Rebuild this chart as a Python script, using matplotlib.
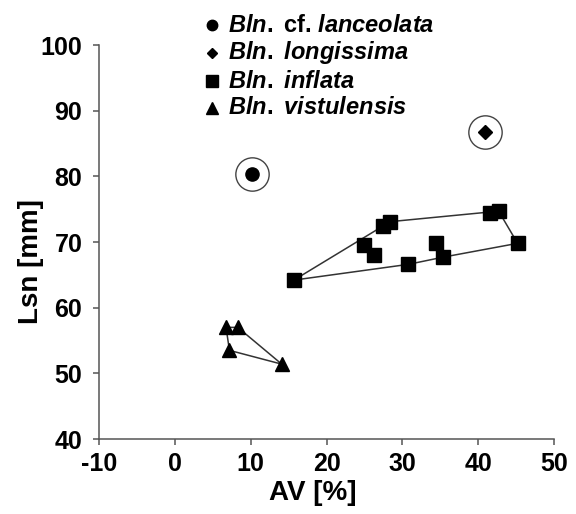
import matplotlib
matplotlib.use("Agg")
import matplotlib.pyplot as plt

# ---- data ----
lanceolata_x = [10.2]
lanceolata_y = [80.4]
longissima_x = [40.9]
longissima_y = [86.8]
inflata_x = [15.7, 24.9, 26.3, 27.5, 28.4, 30.8, 34.5, 35.4, 41.5, 42.7, 45.2]
inflata_y = [64.2, 69.5, 68.0, 72.4, 73.1, 66.6, 69.8, 67.7, 74.4, 74.7, 69.8]
inflata_hull = [0, 4, 9, 10, 7, 5, 0]
vistulensis_x = [6.75, 8.3, 7.2, 14.1]
vistulensis_y = [57.0, 57.0, 53.5, 51.4]
vistulensis_hull = [0, 1, 3, 2, 0]
x_ticks = [-10, 0, 10, 20, 30, 40, 50]
y_ticks = [40, 50, 60, 70, 80, 90, 100]
legend_labels = [r"$\mathit{Bln.}$ cf. $\mathit{lanceolata}$",
                 r"$\mathit{Bln.\ longissima}$",
                 r"$\mathit{Bln.\ inflata}$",
                 r"$\mathit{Bln.\ vistulensis}$"]
legend_markers = ["o", "D", "s", "^"]
legend_sizes = [7.5, 5.5, 8, 8]

plt.rcParams['font.family'] = ['Liberation Sans', 'DejaVu Sans']
plt.rcParams['font.weight'] = 'bold'
plt.rcParams['axes.unicode_minus'] = False
plt.rcParams['mathtext.fontset'] = 'custom'
plt.rcParams['mathtext.it'] = 'Liberation Sans:italic:bold'
plt.rcParams['mathtext.rm'] = 'Liberation Sans:bold'
plt.rcParams['mathtext.bf'] = 'Liberation Sans:bold'

fig = plt.figure(figsize=(5.76, 5.14), dpi=100)
ax = fig.add_axes([0.1719, 0.1459, 0.7899, 0.7665])

line_c = '#333333'
spine_c = '#555555'

# hull outlines
ax.plot([inflata_x[i] for i in inflata_hull], [inflata_y[i] for i in inflata_hull],
        color=line_c, lw=1.1, zorder=2)
ax.plot([vistulensis_x[i] for i in vistulensis_hull], [vistulensis_y[i] for i in vistulensis_hull],
        color=line_c, lw=1.1, zorder=2)

# points
ax.plot(inflata_x, inflata_y, 's', color='black', ms=10.5, mec='black', zorder=3)
ax.plot(vistulensis_x, vistulensis_y, '^', color='black', ms=10.5, zorder=3)
ax.plot(lanceolata_x, lanceolata_y, 'o', color='black', ms=9.5, zorder=3)
ax.plot(longissima_x, longissima_y, 'D', color='black', ms=7.5, zorder=3)
# rings
ax.plot(lanceolata_x, lanceolata_y, 'o', mfc='none', mec='#444444', mew=1.0, ms=24, zorder=3)
ax.plot(longissima_x, longissima_y, 'o', mfc='none', mec='#444444', mew=1.0, ms=24, zorder=3)

ax.set_xlim(-10, 50)
ax.set_ylim(40, 100)
ax.set_xticks(x_ticks)
ax.set_yticks(y_ticks)
ax.set_xticklabels([str(t) for t in x_ticks])
ax.set_yticklabels([str(t) for t in y_ticks])
ax.tick_params(axis='both', direction='out', length=4, width=1.1, color=spine_c,
               labelsize=18)
ax.tick_params(axis='y', pad=8)
ax.tick_params(axis='x', pad=5)
for s in ['top', 'right']:
    ax.spines[s].set_visible(False)
for s in ['left', 'bottom']:
    ax.spines[s].set_color(spine_c)
    ax.spines[s].set_linewidth(1.1)

ax.set_xlabel('AV [%]', fontsize=20, fontweight='bold')
ax.set_ylabel('Lsn [mm]', fontsize=20, fontweight='bold')
ax.xaxis.set_label_coords(0.47, -0.105)
ax.yaxis.set_label_coords(-0.12, 0.45)

# legend (manual, figure pixel coordinates)
lax = fig.add_axes([0, 0, 1, 1], zorder=5)
lax.set_xlim(0, 576)
lax.set_ylim(514, 0)
lax.axis('off')
rows_y = [25, 53, 81, 108]
for yy, lab, mk, sz in zip(rows_y, legend_labels, legend_markers, legend_sizes):
    lax.plot([212], [yy], mk, color='black', ms=sz)
    lax.text(228, yy, lab, fontsize=17, fontweight='bold', va='center', ha='left')

fig.savefig('out.png', dpi=100)
